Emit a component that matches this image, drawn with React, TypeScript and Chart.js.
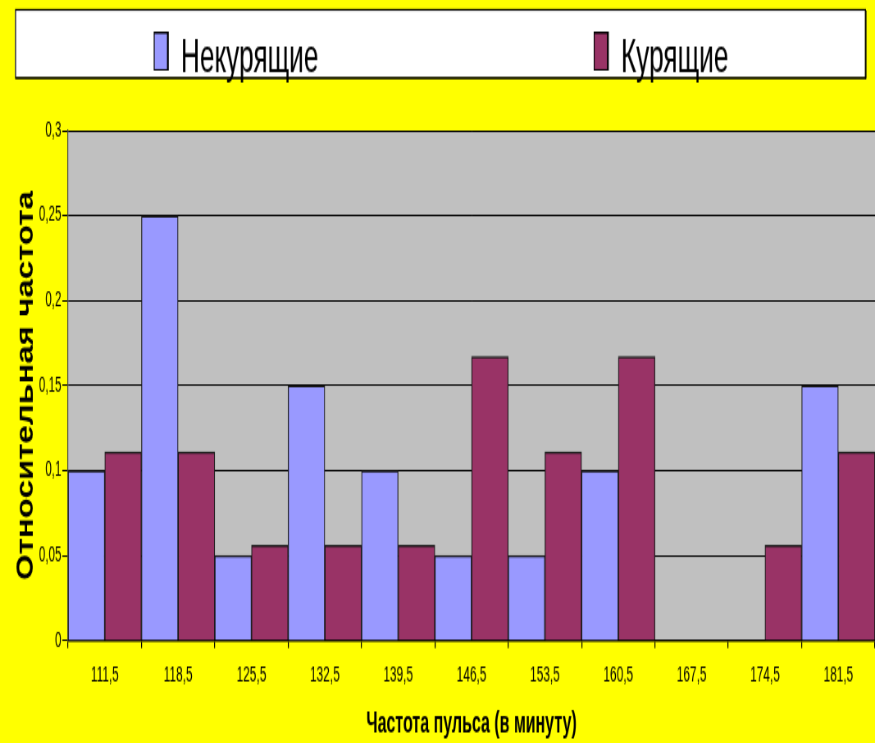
import React, { useEffect, useRef } from "react";
import { Chart, registerables } from "chart.js";

Chart.register(...registerables);

const categories = ["111,5", "118,5", "125,5", "132,5", "139,5", "146,5", "153,5", "160,5", "167,5", "174,5", "181,5"];
const nonSmokers = [0.10, 0.25, 0.05, 0.15, 0.10, 0.05, 0.05, 0.10, 0, 0, 0.15];
const smokers = [0.111, 0.111, 0.056, 0.056, 0.056, 0.167, 0.111, 0.167, 0, 0.056, 0.111];
const seriesNames = ["Некурящие", "Курящие"];
const xTitle = "Частота пульса (в минуту)";
const yTitle = "Относительная частота";

const FONT = "'Liberation Sans', Arial, sans-serif";
const W_CSS = 875;
const H_CSS = 743;
// internal canvas size: text looks narrow (squeezed horizontally) and tall (stretched vertically)
const W = 1067;
const H = 495;

const plotBgPlugin = {
  id: "plotBg",
  beforeDraw(chart: any) {
    const { ctx, chartArea } = chart;
    ctx.save();
    ctx.fillStyle = "#C0C0C0";
    ctx.fillRect(chartArea.left, chartArea.top, chartArea.right - chartArea.left, chartArea.bottom - chartArea.top);
    ctx.restore();
    // condense the rotated y-axis title along its length
    const s = chart.scales.y;
    if (s && !s.__condensed) {
      const orig = s.drawTitle.bind(s);
      s.drawTitle = function () {
        const c = chart.ctx;
        const cy = (s.top + s.bottom) / 2;
        c.save();
        c.translate(0, cy);
        c.scale(1, 0.735);
        c.translate(0, -cy);
        orig();
        c.restore();
      };
      s.__condensed = true;
    }
  },
};

const legendBoxPlugin = {
  id: "legendBox",
  afterDraw(chart: any) {
    const ctx = chart.ctx;
    const bx = 18.3, by = 6, bw = 1036.5, bh = 45.5;
    ctx.save();
    ctx.fillStyle = "#FFFFFF";
    ctx.fillRect(bx, by, bw, bh);
    ctx.strokeStyle = "#000";
    ctx.lineWidth = 1.2;
    ctx.strokeRect(bx + 0.6, by + 0.5, bw, bh);
    ctx.fillStyle = "#000";
    ctx.fillRect(bx + 1, by + bh, bw, 1);
    ctx.fillRect(bx + bw, by + 1, 1.8, bh);
    ctx.font = `32px ${FONT}`;
    ctx.textBaseline = "alphabetic";
    const n = chart.data.datasets.length;
    chart.data.datasets.forEach((ds: any, i: number) => {
      const tw = ctx.measureText(ds.label).width;
      const mw = 16, gap = 16;
      const cx = bx + (bw * (2 * i + 1)) / (2 * n) + 11;
      const x0 = cx - (mw + gap + tw) / 2;
      ctx.fillStyle = "#000";
      ctx.fillRect(x0 - 1.2, 21, mw + 2.4, 26);
      ctx.fillStyle = ds.backgroundColor;
      ctx.fillRect(x0, 22.5, mw - 1, 23.5);
      ctx.fillStyle = "#000";
      ctx.fillText(ds.label, x0 + mw + gap, 47.5);
    });
    ctx.restore();
  },
};

export default function App() {
  const ref = useRef<HTMLCanvasElement | null>(null);
  useEffect(() => {
    if (!ref.current) return;
    const chart = new Chart(ref.current, {
      type: "bar",
      data: {
        labels: categories,
        datasets: [
          {
            label: seriesNames[0],
            data: nonSmokers,
            backgroundColor: "#9999FF",
            borderColor: "#1a1a1a",
            borderWidth: { top: 1.6, left: 1.2, right: 1.2, bottom: 0 },
            categoryPercentage: 1,
            barPercentage: 1,
          },
          {
            label: seriesNames[1],
            data: smokers,
            backgroundColor: "#993366",
            borderColor: "#1a1a1a",
            borderWidth: { top: 1.6, left: 1.2, right: 1.2, bottom: 0 },
            categoryPercentage: 1,
            barPercentage: 1,
          },
        ],
      },
      options: {
        animation: false,
        responsive: false,
        devicePixelRatio: 1,
        layout: { padding: { top: 87, left: 0, right: 0, bottom: 0 } },
        plugins: {
          legend: { display: false },
          tooltip: { enabled: false },
        },
        scales: {
          x: {
            grid: { display: true, drawOnChartArea: false, drawTicks: true, tickLength: 5, color: "#000", lineWidth: 1.2, offset: true },
            border: { display: true, color: "#000", width: 1.5 },
            ticks: { font: { family: FONT, size: 14.5 }, color: "#000", padding: 10, maxRotation: 0, autoSkip: false },
            title: {
              display: true,
              text: xTitle,
              color: "#000",
              font: { family: FONT, size: 19.5, weight: "bold" },
              padding: { top: 0, bottom: 1 },
            },
            afterFit: (s: any) => {
              s.height = 68.3;
            },
          },
          y: {
            min: 0,
            max: 0.3,
            grid: { color: "#000", lineWidth: 1, tickLength: 7 },
            border: { display: true, color: "#444", width: 1.2 },
            ticks: {
              stepSize: 0.05,
              font: { family: FONT, size: 14 },
              color: "#000",
              padding: 1.2,
              callback: (v: any) => String(Math.round(Number(v) * 100) / 100).replace(".", ","),
            },
            title: {
              display: true,
              text: yTitle,
              color: "#000",
              font: { family: FONT, size: 30, weight: "bold" },
              padding: { top: 13.7, bottom: 0 },
            },
            afterFit: (s: any) => {
              s.width = 83;
            },
          },
        },
      },
      plugins: [plotBgPlugin, legendBoxPlugin],
    });
    return () => chart.destroy();
  }, []);
  return (
    <div style={{ position: "absolute", left: 0, top: 0, width: W_CSS, height: H_CSS, background: "#FFFF00", overflow: "hidden" }}>
      <canvas ref={ref} width={W} height={H} style={{ display: "block", width: `${W_CSS}px`, height: `${H_CSS}px` }} />
    </div>
  );
}
